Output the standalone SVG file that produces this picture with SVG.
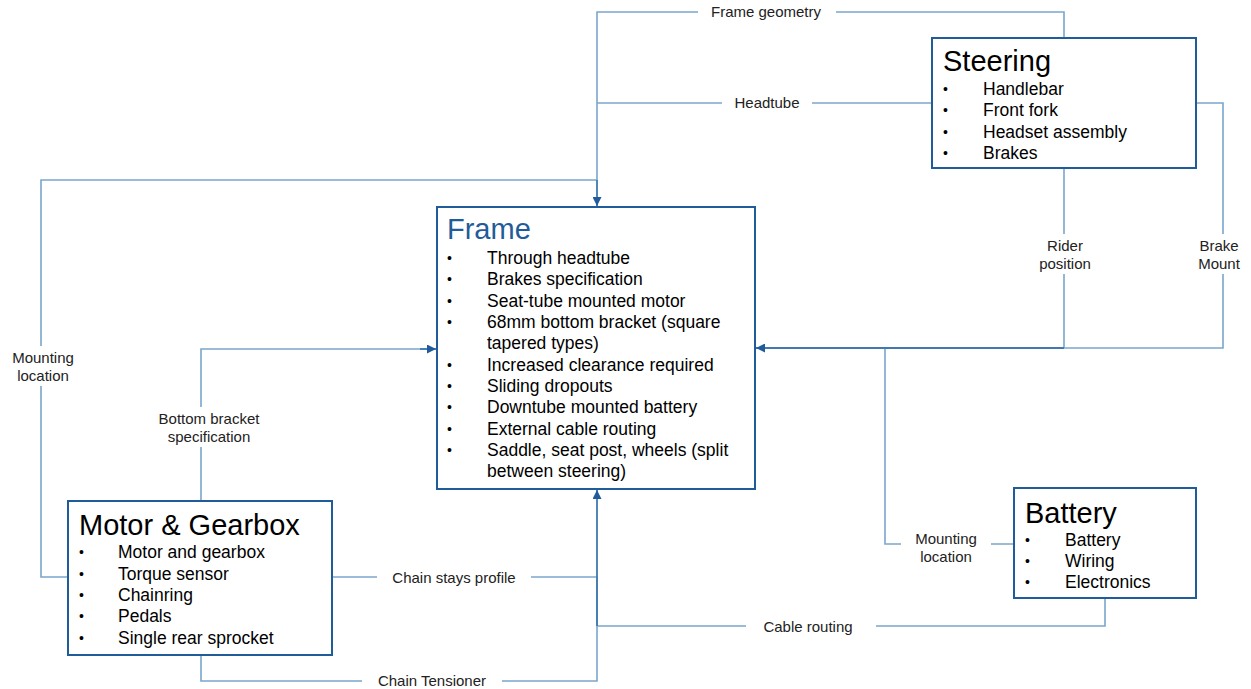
<svg xmlns="http://www.w3.org/2000/svg" width="1251" height="689" viewBox="0 0 1251 689">
<style>
.box{fill:#fff;stroke:#1f5c99;stroke-width:2}
.ln{fill:none;stroke:#7ba6cd;stroke-width:1.6}
.tr{fill:none;stroke:#3f79b0;stroke-width:1.8}
.lb{fill:#fff;stroke:none}
text{font-family:"Liberation Sans",Arial,sans-serif;fill:#000}
.t{font-size:29px}
.i{font-size:17.5px}
.b{font-size:14px}
.l{font-size:15px;fill:#222;text-anchor:middle}
</style>
<defs>
<marker id="ah" viewBox="0 0 10 10" refX="10" refY="5" markerWidth="9" markerHeight="9" markerUnits="userSpaceOnUse" orient="auto">
<path d="M0,0 L10,5 L0,10 Z" fill="#1f5c99"/>
</marker>
</defs>
<g id="connectors">
<polyline class="ln" points="1064,38 1064,12 597,12 597,180"/>
<polyline class="ln" points="932,103 597,103"/>
<polyline class="ln" points="68,577 41,577 41,180 597,180"/>
<line class="tr" x1="597" y1="180" x2="597" y2="206" marker-end="url(#ah)"/>
<polyline class="ln" points="201,501 201,349 430,349"/>
<line class="tr" x1="420" y1="349" x2="436" y2="349" marker-end="url(#ah)"/>
<polyline class="ln" points="1064,168 1064,348"/>
<polyline class="ln" points="1196,103 1223,103 1223,348 1064,348"/>
<polyline class="ln" points="1014,544 885,544 885,348"/>
<polyline class="tr" points="1064,348 756,348" marker-end="url(#ah)"/>
<polyline class="ln" points="332,577 597,577"/>
<polyline class="ln" points="1105,598 1105,626 597,626"/>
<polyline class="ln" points="201,655 201,681 597,681 597,577"/>
<line class="tr" x1="597" y1="626" x2="597" y2="490" marker-end="url(#ah)"/>
<rect class="lb" x="698" y="2" width="138" height="20"/>
<text class="l" x="766" y="17">Frame geometry</text>
<rect class="lb" x="722" y="93" width="90" height="20"/>
<text class="l" x="767" y="108">Headtube</text>
<rect class="lb" x="6" y="346" width="72" height="40"/>
<text class="l" x="43" y="363">Mounting</text>
<text class="l" x="43" y="381">location</text>
<rect class="lb" x="150" y="407" width="118" height="40"/>
<text class="l" x="209" y="424">Bottom bracket</text>
<text class="l" x="209" y="442">specification</text>
<rect class="lb" x="1030" y="234" width="70" height="40"/>
<text class="l" x="1065" y="251">Rider</text>
<text class="l" x="1065" y="269">position</text>
<rect class="lb" x="1193" y="234" width="56" height="40"/>
<text class="l" x="1219" y="251">Brake</text>
<text class="l" x="1219" y="269">Mount</text>
<rect class="lb" x="901" y="527" width="90" height="40"/>
<text class="l" x="946" y="544">Mounting</text>
<text class="l" x="946" y="562">location</text>
<rect class="lb" x="377" y="567" width="154" height="20"/>
<text class="l" x="454" y="583">Chain stays profile</text>
<rect class="lb" x="746" y="616" width="130" height="20"/>
<text class="l" x="808" y="632">Cable routing</text>
<rect class="lb" x="362" y="671" width="140" height="18"/>
<text class="l" x="432" y="686">Chain Tensioner</text>
</g>
<g id="steering">
<rect class="box" x="932" y="38" width="264" height="130"/>
<text class="t" x="943" y="71">Steering</text>
<g class="b">
<text x="943" y="94">•</text><text x="943" y="115">•</text><text x="943" y="137">•</text><text x="943" y="158">•</text>
</g>
<g class="i">
<text x="983" y="95">Handlebar</text>
<text x="983" y="116">Front fork</text>
<text x="983" y="138">Headset assembly</text>
<text x="983" y="159">Brakes</text>
</g>
</g>
<g id="frame">
<rect class="box" x="437" y="207" width="318" height="282"/>
<text class="t" x="447" y="239" style="fill:#1f5c99">Frame</text>
<g class="b">
<text x="447" y="263">•</text><text x="447" y="284">•</text><text x="447" y="306">•</text><text x="447" y="327">•</text>
<text x="447" y="370">•</text><text x="447" y="391">•</text><text x="447" y="412">•</text><text x="447" y="434">•</text><text x="447" y="455">•</text>
</g>
<g class="i">
<text x="487" y="264">Through headtube</text>
<text x="487" y="285">Brakes specification</text>
<text x="487" y="307">Seat-tube mounted motor</text>
<text x="487" y="328">68mm bottom bracket (square</text>
<text x="487" y="349">tapered types)</text>
<text x="487" y="371">Increased clearance required</text>
<text x="487" y="392">Sliding dropouts</text>
<text x="487" y="413">Downtube mounted battery</text>
<text x="487" y="435">External cable routing</text>
<text x="487" y="456">Saddle, seat post, wheels (split</text>
<text x="487" y="477">between steering)</text>
</g>
</g>
<g id="motor">
<rect class="box" x="68" y="501" width="264" height="154"/>
<text class="t" x="79" y="535">Motor &amp; Gearbox</text>
<g class="b">
<text x="79" y="557">•</text><text x="79" y="579">•</text><text x="79" y="600">•</text><text x="79" y="621">•</text><text x="79" y="643">•</text>
</g>
<g class="i">
<text x="118" y="558">Motor and gearbox</text>
<text x="118" y="580">Torque sensor</text>
<text x="118" y="601">Chainring</text>
<text x="118" y="622">Pedals</text>
<text x="118" y="644">Single rear sprocket</text>
</g>
</g>
<g id="battery">
<rect class="box" x="1014" y="488" width="182" height="110"/>
<text class="t" x="1025" y="523">Battery</text>
<g class="b">
<text x="1025" y="545">•</text><text x="1025" y="566">•</text><text x="1025" y="587">•</text>
</g>
<g class="i">
<text x="1065" y="546">Battery</text>
<text x="1065" y="567">Wiring</text>
<text x="1065" y="588">Electronics</text>
</g>
</g>
</svg>
